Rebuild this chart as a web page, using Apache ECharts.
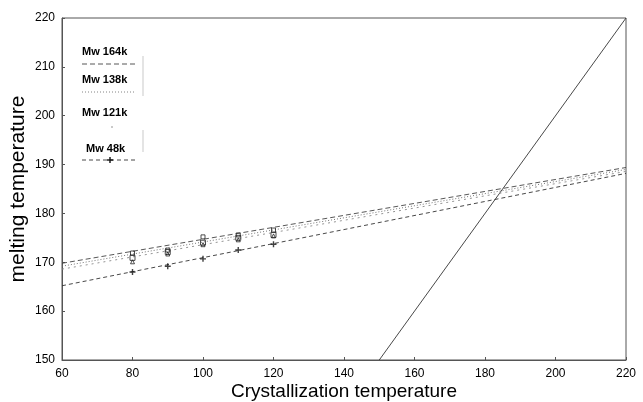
<!DOCTYPE html>
<html><head><meta charset="utf-8">
<script src="https://cdn.jsdelivr.net/npm/echarts@6/dist/echarts.min.js"></script>
<style>html,body{margin:0;padding:0;background:#fff}#c{width:643px;height:402px}</style>
</head><body><div id="c"></div>
<script>
// Crystallization temperatures of measured points
var tc = [80, 90, 100, 110, 120];
// Melting temperatures
var tm164 = [171.9, 172.5, 175.2, 175.6, 176.6];
var tm138 = [170.9, 172.1, 174.0, 175.0, 175.6];
var tm121 = [170.1, 171.7, 173.6, 174.6, 175.4];
var tm48  = [168.0, 169.2, 170.7, 172.5, 173.7];
// Linear fit lines: endpoints at Tc = 60 and 220
var fitX = [60, 220];
var fit164 = [169.8, 189.4];
var fit138 = [169.2, 189.0];
var fit121 = [168.6, 188.6];
var fit48  = [165.2, 188.2];
// Tm = Tc line
var eqX = [150, 220];
var eqY = [150, 220];
var names = ['Mw 164k', 'Mw 138k', 'Mw 121k', 'Mw 48k'];
var xTicks = [60, 80, 100, 120, 140, 160, 180, 200, 220];
var yTicks = [150, 160, 170, 180, 190, 200, 210, 220];

function pairs(xs, ys){ return xs.map(function(x,i){ return [x, ys[i]]; }); }
var plusPath = 'path://M0,5L10,5M5,0L5,10';

var chart = echarts.init(document.getElementById('c'), null, {renderer:'canvas'});
var font = 'Liberation Sans, Arial, Helvetica, sans-serif';
function fitSeries(name, ys, dash, color){
  return {name:name, type:'line', data:pairs(fitX, ys), symbol:'none', silent:true,
    lineStyle:{color:color, width:0.9, type:dash}, z:2};
}
function ptSeries(name, ys, sym, size){
  return {name:name, type:'scatter', data:pairs(tc, ys), symbol:sym, symbolSize:size,
    itemStyle:{color:'none', borderColor:'#222', borderWidth:1}, z:3};
}
chart.setOption({
  animation:false,
  backgroundColor:'#fff',
  grid:{left:62, right:17, top:18, bottom:42, show:true, borderColor:'#555', borderWidth:1,
    containLabel:false, outerBoundsMode:'none'},
  xAxis:{type:'value', min:60, max:220, interval:20,
    name:'Crystallization temperature', nameLocation:'middle', nameGap:22, nameMoveOverlap:false,
    nameTextStyle:{fontFamily:font, fontSize:19, color:'#000'},
    axisLine:{lineStyle:{color:'#555', width:1}},
    axisTick:{inside:true, length:3, lineStyle:{color:'#555'}},
    axisLabel:{fontFamily:font, fontSize:12, color:'#000', margin:8},
    splitLine:{show:false}},
  yAxis:{type:'value', min:150, max:220, interval:10,
    name:'melting temperature', nameLocation:'middle', nameGap:33, nameMoveOverlap:false,
    nameTextStyle:{fontFamily:font, fontSize:21, color:'#000'},
    axisLine:{show:true, lineStyle:{color:'#555', width:1}},
    axisTick:{show:true, inside:true, length:3, lineStyle:{color:'#555'}},
    axisLabel:{fontFamily:font, fontSize:12, color:'#000', margin:7},
    splitLine:{show:false}},
  series:[
    {name:'Tm=Tc', type:'line', data:pairs(eqX, eqY), symbol:'none', silent:true,
      lineStyle:{color:'#333', width:0.9}, z:2},
    fitSeries(names[0], fit164, [5,3], '#444'),
    fitSeries(names[1], fit138, [1,2], '#666'),
    fitSeries(names[2], fit121, [2,4], '#888'),
    fitSeries(names[3], fit48, [4,3], '#333'),
    ptSeries(names[0], tm164, 'rect', 4),
    ptSeries(names[1], tm138, 'rect', 5),
    ptSeries(names[2], tm121, 'triangle', 4),
    {name:names[3], type:'scatter', data:pairs(tc, tm48), symbol:plusPath, symbolSize:6,
      itemStyle:{color:'none', borderColor:'#111', borderWidth:1.4}, z:3}
  ],
  graphic:[
    {type:'text', left:82, top:46, style:{text:names[0], font:'bold 11px '+font, fill:'#000'}},
    {type:'line', shape:{x1:82,y1:64,x2:136,y2:64}, style:{stroke:'#444', lineWidth:0.9, lineDash:[5,3]}},
    {type:'text', left:82, top:74, style:{text:names[1], font:'bold 11px '+font, fill:'#000'}},
    {type:'line', shape:{x1:82,y1:92,x2:136,y2:92}, style:{stroke:'#777', lineWidth:0.9, lineDash:[1,2]}},
    {type:'text', left:82, top:107, style:{text:names[2], font:'bold 11px '+font, fill:'#000'}},
    {type:'line', shape:{x1:111,y1:127,x2:113,y2:127}, style:{stroke:'#888', lineWidth:0.9}},
    {type:'text', left:86, top:143, style:{text:names[3], font:'bold 11px '+font, fill:'#000'}},
    {type:'line', shape:{x1:82,y1:160,x2:136,y2:160}, style:{stroke:'#333', lineWidth:0.9, lineDash:[4,3]}},
    {type:'line', shape:{x1:107,y1:160,x2:113,y2:160}, style:{stroke:'#111', lineWidth:1.4}},
    {type:'line', shape:{x1:110,y1:157,x2:110,y2:163}, style:{stroke:'#111', lineWidth:1.4}},
    {type:'line', shape:{x1:143,y1:56,x2:143,y2:96}, style:{stroke:'#bbb', lineWidth:0.8}},
    {type:'line', shape:{x1:143,y1:130,x2:143,y2:152}, style:{stroke:'#bbb', lineWidth:0.8}}
  ]
});
</script></body></html>
